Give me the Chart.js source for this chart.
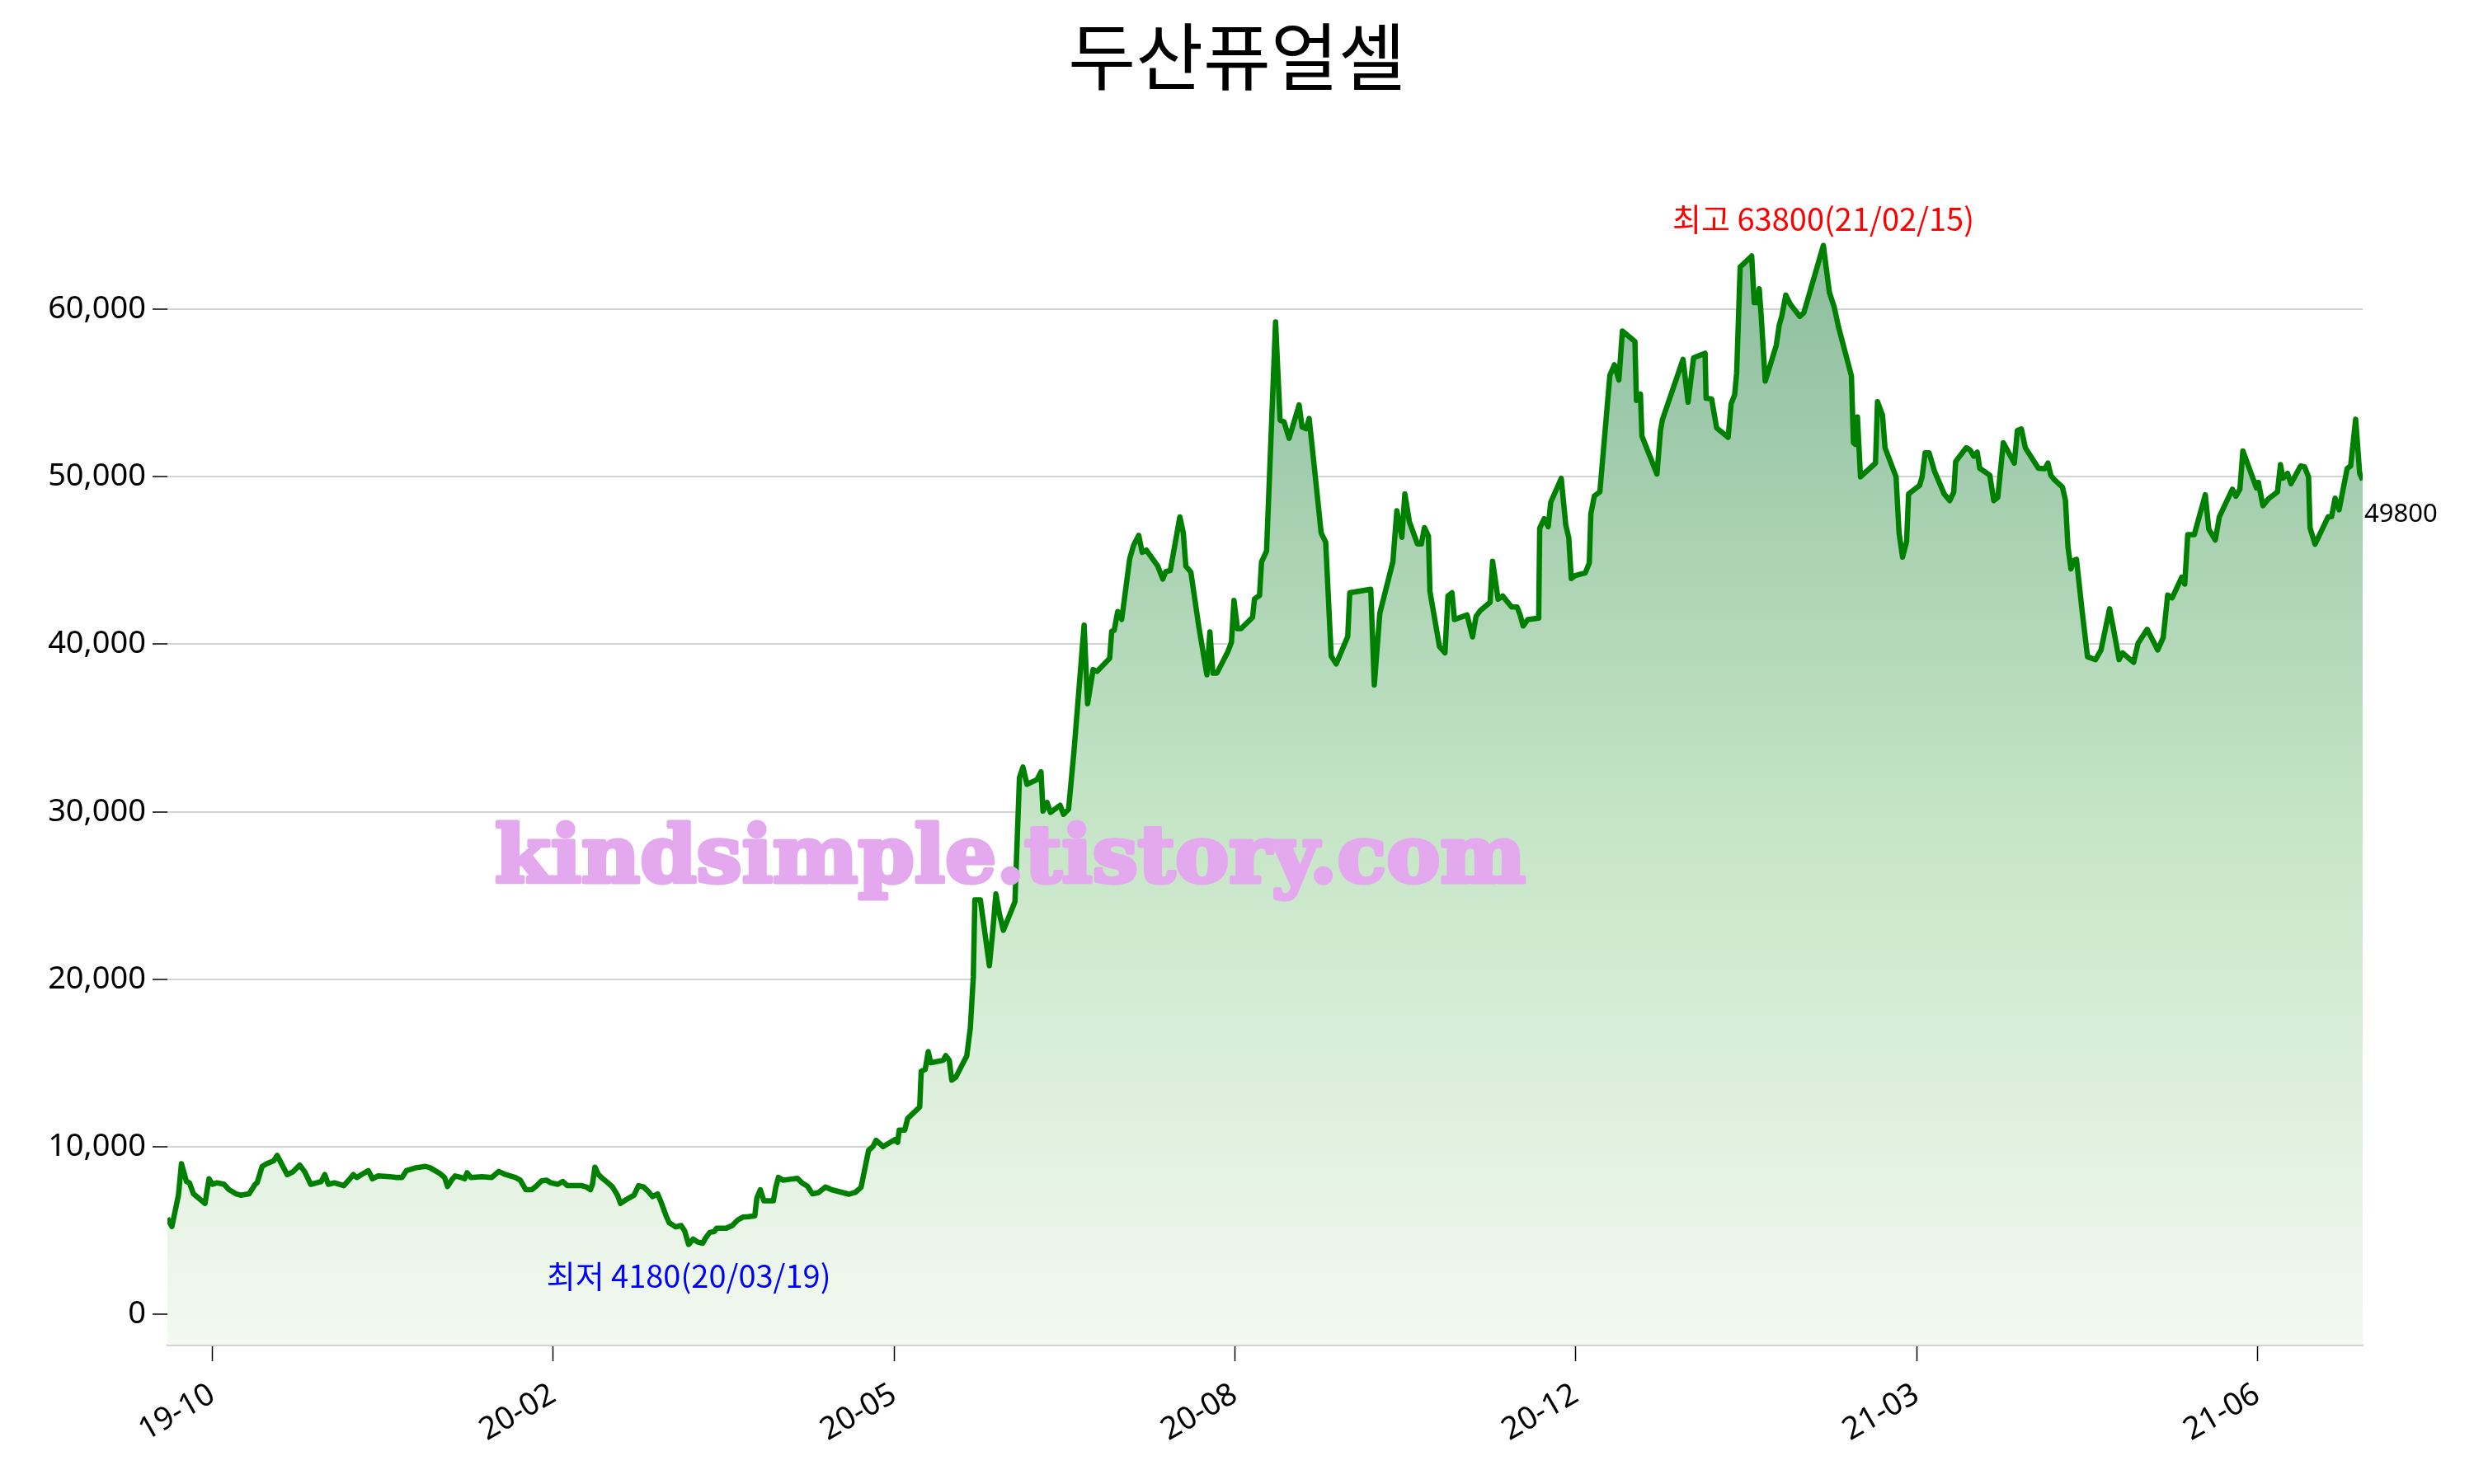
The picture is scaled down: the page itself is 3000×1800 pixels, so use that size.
<!DOCTYPE html>
<html>
<head>
<meta charset="utf-8">
<script src="https://cdn.jsdelivr.net/npm/chart.js@4.4.0/dist/chart.umd.min.js"></script>
<style>
  html, body { margin: 0; padding: 0; background: #fff; }
</style>
</head>
<body>
<canvas id="chart" width="3000" height="1800"></canvas>
<script>
// trading-day position (0 = first listed day) and closing price
const day = [
  0, 0.9, 2.2, 2.8, 3.8, 4.4, 5.2, 7.5, 8.3, 9.0,
  9.9, 11.3, 12.3, 13.7, 14.6, 16.3, 17.5, 17.9, 18.9, 19.8,
  21.2, 21.9, 22.9, 23.9, 25.0, 26.4, 27.4, 28.6, 29.8, 30.7,
  31.4, 32.1, 33.3, 35.2, 36.4, 37.1, 37.8, 38.7, 40.1, 40.9,
  42.0, 44.4, 45.8, 46.8, 47.7, 49.6, 51.5, 52.4, 54.3, 55.3,
  55.9, 56.7, 57.4, 58.6, 59.3, 59.8, 60.5, 62.8, 64.7, 66.1,
  67.5, 69.4, 70.4, 71.5, 72.7, 73.7, 74.6, 75.6, 76.5, 77.9,
  78.9, 79.8, 82.7, 83.6, 84.4, 84.8, 85.3, 86.0, 86.9, 87.9,
  88.8, 89.8, 90.4, 91.6, 93.1, 94.0, 95.0, 95.9, 96.8, 97.8,
  98.5, 99.5, 100.1, 101.4, 102.5, 103.2, 104.0, 104.9, 105.8, 106.8,
  107.4, 108.2, 109.1, 109.6, 111.5, 112.7, 113.8, 114.8, 115.9, 117.2,
  117.6, 118.3, 119.0, 120.9, 121.4, 121.9, 122.8, 124.2, 125.7, 126.6,
  127.7, 128.7, 129.9, 131.3, 132.5, 136.0, 137.3, 138.4, 139.9, 140.8,
  141.4, 142.8, 145.2, 145.7, 146.0, 147.1, 147.7, 150.1, 150.4, 151.2,
  151.8, 152.3, 154.8, 155.3, 156.0, 156.5, 157.3, 159.5, 160.2, 160.8,
  161.1, 162.2, 164.0, 164.7, 165.3, 166.0, 166.8, 169.1, 170.0, 170.7,
  171.5, 173.5, 174.3, 174.7, 175.5, 176.2, 178.1, 178.8, 179.8, 180.9,
  182.9, 183.6, 184.7, 185.5, 188.0, 188.4, 188.9, 189.6, 190.4, 192.0,
  192.8, 193.8, 194.5, 195.3, 197.6, 198.6, 199.2, 200.1, 202.0, 202.7,
  203.2, 204.2, 205.0, 205.8, 207.4, 208.0, 208.6, 209.4, 211.6, 212.3,
  212.8, 213.5, 214.2, 216.5, 216.9, 217.9, 218.3, 219.3, 221.1, 222.0,
  222.8, 223.8, 225.8, 226.4, 227.2, 227.8, 228.6, 230.2, 231.1, 232.2,
  233.2, 235.5, 235.9, 240.1, 240.8, 241.9, 244.5, 245.3, 246.3, 246.9,
  247.8, 249.4, 250.2, 250.8, 251.6, 251.9, 253.8, 254.9, 255.5, 256.3,
  256.8, 259.3, 260.4, 261.1, 262.0, 263.9, 264.4, 265.5, 266.4, 268.2,
  269.3, 269.9, 270.5, 271.4, 273.6, 273.8, 274.7, 275.5, 276.0, 278.1,
  279.0, 279.6, 280.1, 280.9, 282.9, 283.7, 284.0, 284.7, 285.8, 287.8,
  288.7, 289.6, 290.3, 292.8, 293.1, 293.9, 294.2, 297.2, 297.9, 298.3,
  302.4, 303.4, 304.5, 306.8, 307.0, 308.1, 309.1, 311.4, 312.0, 312.7,
  313.1, 313.8, 316.1, 316.6, 317.3, 317.6, 318.0, 318.8, 321.0, 321.6,
  322.1, 322.9, 323.8, 325.7, 326.5, 330.4, 331.2, 331.6, 332.6, 333.4,
  336.0, 336.4, 336.8, 337.2, 337.8, 340.8, 341.2, 342.2, 342.7, 344.9,
  345.5, 346.2, 347.0, 347.4, 349.6, 350.1, 350.7, 351.5, 352.6, 354.5,
  355.6, 356.4, 356.8, 358.9, 359.7, 360.4, 361.1, 361.6, 363.6, 364.4,
  365.2, 366.3, 368.5, 369.1, 369.9, 370.7, 373.3, 374.6, 375.2, 375.8,
  376.5, 378.1, 378.7, 379.2, 379.8, 380.3, 380.9, 382.0, 383.1, 384.7,
  385.8, 387.5, 388.3, 389.4, 390.1, 391.0, 392.3, 393.2, 395.0, 397.1,
  398.2, 399.1, 400.0, 401.9, 402.5, 403.1, 404.4, 406.6, 407.3, 408.6,
  409.4, 412.0, 412.7, 413.5, 414.1, 416.8, 417.2, 418.1, 419.2, 421.0,
  421.6, 422.1, 423.0, 423.7, 425.6, 426.4, 427.2, 427.5, 428.5, 431.1,
  431.8, 432.5, 433.3, 434.9, 435.6, 436.6, 437.4, 438.0
];
const close = [
  5750, 5250, 7120, 9000, 7940, 7860, 7200, 6630, 8100, 7770,
  7860, 7770, 7450, 7200, 7120, 7200, 7770, 7860, 8840, 9000,
  9170, 9490, 8920, 8350, 8510, 8920, 8510, 7770, 7860, 7940,
  8350, 7770, 7860, 7690, 8100, 8350, 8180, 8350, 8590, 8100,
  8270, 8230, 8180, 8180, 8590, 8760, 8840, 8760, 8430, 8180,
  7640, 8020, 8270, 8180, 8100, 8460, 8180, 8230, 8180, 8540,
  8350, 8180, 8020, 7450, 7450, 7690, 7970, 8020, 7860, 7770,
  7940, 7690, 7690, 7610, 7450, 7770, 8790, 8350, 8100, 7860,
  7610, 7120, 6630, 6870, 7120, 7690, 7610, 7360, 7040, 7200,
  6710, 5890, 5480, 5230, 5310, 4990, 4180, 4500, 4330, 4250,
  4580, 4900, 4950, 5150, 5150, 5310, 5640, 5810, 5840, 5890,
  6950, 7450, 6790, 6790, 7610, 8180, 8020, 8070, 8130, 7860,
  7660, 7200, 7280, 7610, 7450, 7180, 7300, 7590, 9800, 10040,
  10400, 10020, 10450, 10280, 11000, 11000, 11700, 12390, 14510, 14630,
  15690, 15030, 15170, 15450, 15170, 13990, 14160, 15450, 17100, 20160,
  24750, 24750, 20820, 22980, 25100, 23920, 22930, 24630, 32040, 32670,
  31640, 31920, 32390, 30040, 30560, 29970, 30390, 29850, 30160, 33690,
  41140, 36450, 38490, 38380, 39160, 40770, 40830, 41950, 41480, 45110,
  45930, 46500, 45480, 45620, 44660, 43890, 44340, 44400, 47600, 46640,
  44660, 44300, 42660, 41030, 38180, 40730, 38280, 38280, 39570, 40120,
  42620, 40930, 40930, 41600, 42710, 42910, 44910, 45560, 59240, 53370,
  53270, 52290, 54280, 52960, 52860, 53470, 51230, 46640, 46090, 39300,
  38830, 40460, 43070, 43280, 37570, 41850, 44910, 47970, 46380, 48980,
  47310, 45990, 45990, 46960, 46460, 43160, 39870, 39490, 42880, 43070,
  41470, 41750, 40440, 41660, 42030, 42500, 44950, 42690, 42880, 42220,
  42220, 41750, 41090, 41470, 41560, 46930, 47490, 47020, 48470, 49900,
  47120, 46360, 43920, 44100, 44260, 44860, 47770, 48850, 49090, 56050,
  56680, 55770, 58690, 58070, 54550, 54930, 52420, 50160, 52760, 53420,
  57000, 54450, 57090, 57370, 54680, 54640, 52910, 52350, 54360, 54890,
  56200, 62510, 63170, 60390, 60390, 61210, 59570, 55700, 57840, 59060,
  59570, 60840, 60290, 59570, 59780, 63800, 61920, 61000, 60080, 58960,
  56010, 52030, 51930, 53560, 49990, 50810, 54480, 53660, 51730, 49990,
  46630, 45200, 46120, 48970, 49480, 49990, 51420, 51420, 50300, 48970,
  48570, 49070, 50910, 51730, 51580, 51220, 51460, 50500, 50090, 48570,
  48770, 52030, 50810, 52750, 52850, 51720, 50500, 50480, 50810, 50070,
  49820, 49380, 48590, 45810, 44500, 44990, 45070, 42040, 39250, 39080,
  39660, 42120, 40890, 39080, 39490, 39250, 38920, 40070, 40890, 39660,
  40400, 42940, 42770, 44000, 43590, 46540, 46540, 48920, 46870, 46220,
  47610, 49250, 48840, 49250, 51540, 49330, 49660, 48270, 48680, 49090,
  50720, 49910, 50200, 49580, 50640, 50590, 49990, 46950, 45970, 47610,
  47610, 48720, 48020, 50480, 50640, 53430, 50200, 49800
];

const tickPos = [9, 77, 145, 213, 281, 349, 417];
const tickLabels = ['19-10', '20-02', '20-05', '20-08', '20-12', '21-03', '21-06'];
const yTicks = [0, 10000, 20000, 30000, 40000, 50000, 60000];

const title = '두산퓨얼셀';
const high = { day: 330.4, price: 63800, text: '최고 63800(21/02/15)' };
const low = { day: 104.0, price: 4180, text: '최저 4180(20/03/19)' };
const last = { day: 438.0, price: 49800, text: '49800' };
const watermark = 'kindsimple.tistory.com';

const FONT = "'Noto Sans', 'Noto Sans CJK KR', sans-serif";
const KFONT = "'Noto Sans CJK KR', 'Noto Sans', sans-serif";

function fillGradient(context) {
  const chart = context.chart;
  const area = chart.chartArea;
  if (!area) return 'rgba(0,128,0,0.2)';
  const yTop = chart.scales.y.getPixelForValue(high.price);
  const g = chart.ctx.createLinearGradient(0, yTop, 0, area.bottom);
  g.addColorStop(0, 'rgb(140,190,158)');
  g.addColorStop(0.55, 'rgb(200,230,200)');
  g.addColorStop(1, 'rgb(243,249,241)');
  return g;
}

const textPlugin = {
  id: 'texts',
  afterDatasetsDraw(chart) {
    const ctx = chart.ctx;
    ctx.save();
    ctx.font = "bold 96px 'DejaVu Serif', serif";
    ctx.fillStyle = '#e4a8ef';
    ctx.strokeStyle = '#e4a8ef';
    ctx.lineWidth = 5;
    ctx.lineJoin = 'round';
    ctx.textBaseline = 'alphabetic';
    ctx.textAlign = 'left';
    const w = ctx.measureText(watermark).width;
    const target = 1250;
    ctx.translate(600, 1070);
    ctx.scale(target / w, 1);
    ctx.strokeText(watermark, 0, 0);
    ctx.fillText(watermark, 0, 0);
    ctx.restore();
  },
  afterDraw(chart) {
    const ctx = chart.ctx;
    const xs = chart.scales.x, ys = chart.scales.y;
    ctx.save();
    ctx.fillStyle = '#000';
    ctx.font = '89px ' + KFONT;
    ctx.textAlign = 'center';
    ctx.textBaseline = 'middle';
    ctx.fillText(title, 1500, 68);

    ctx.font = '38px ' + KFONT;
    ctx.fillStyle = '#ff0000';
    ctx.fillText(high.text, xs.getPixelForValue(high.day), ys.getPixelForValue(high.price) - 32);
    ctx.fillStyle = '#0000ff';
    ctx.fillText(low.text, xs.getPixelForValue(low.day), ys.getPixelForValue(low.price) + 38);
    ctx.fillStyle = '#000';
    ctx.font = '31px ' + FONT;
    ctx.textAlign = 'left';
    ctx.fillText(last.text, xs.getPixelForValue(last.day) + 2, ys.getPixelForValue(last.price) + 42);
    ctx.restore();
  }
};

new Chart(document.getElementById('chart'), {
  type: 'line',
  data: {
    datasets: [{
      data: day.map((d, i) => ({ x: d, y: close[i] })),
      borderColor: '#008000',
      borderWidth: 6.5,
      borderJoinStyle: 'round',
      pointRadius: 0,
      tension: 0,
      fill: 'start',
      backgroundColor: fillGradient
    }]
  },
  options: {
    responsive: false,
    animation: false,
    devicePixelRatio: 1,
    layout: { padding: { top: 253, right: 135, left: 0, bottom: 0 } },
    plugins: {
      legend: { display: false },
      tooltip: { enabled: false },
      title: { display: false }
    },
    scales: {
      x: {
        type: 'linear',
        min: 0,
        max: 438,
        afterFit(scale) { scale.height = 169; },
        afterBuildTicks(scale) { scale.ticks = tickPos.map(v => ({ value: v })); },
        ticks: {
          callback: (value, index) => tickLabels[index],
          minRotation: 30,
          maxRotation: 30,
          padding: 18,
          color: '#000',
          font: { family: FONT, size: 38 }
        },
        grid: {
          drawOnChartArea: false,
          tickLength: 20,
          tickColor: '#000',
          tickWidth: 1.5
        },
        border: { color: '#d3d3d3', width: 3 }
      },
      y: {
        min: -1800,
        max: 66000,
        afterFit(scale) { scale.width = 203; },
        afterBuildTicks(scale) { scale.ticks = yTicks.map(v => ({ value: v })); },
        ticks: {
          callback: value => value.toLocaleString('en-US'),
          padding: 8,
          color: '#000',
          font: { family: FONT, size: 38 }
        },
        grid: {
          color: '#d3d3d3',
          lineWidth: 2,
          tickLength: 18,
          tickColor: '#000',
          tickWidth: 1.5
        },
        border: { display: false }
      }
    }
  },
  plugins: [textPlugin]
});
</script>
</body>
</html>
